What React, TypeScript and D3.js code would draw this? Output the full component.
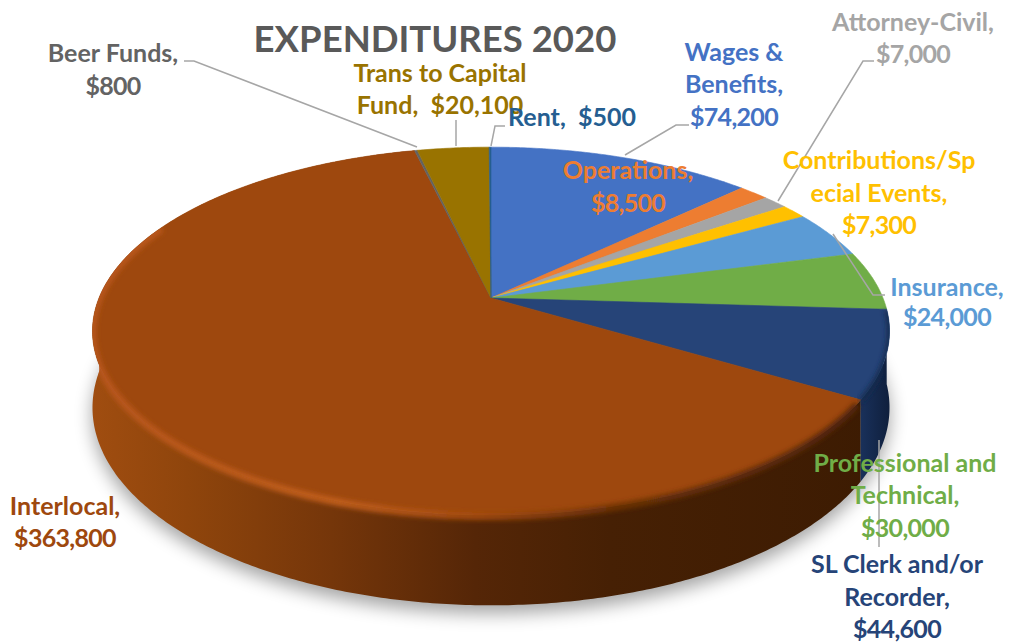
import React from "react";
import * as d3 from "d3";

const width = 1010;
const height = 644;

const categories = [
  "Wages & Benefits",
  "Operations",
  "Attorney-Civil",
  "Contributions/Special Events",
  "Insurance",
  "Professional and Technical",
  "SL Clerk and/or Recorder",
  "Interlocal",
  "Beer Funds",
  "Trans to Capital Fund",
  "Rent",
];
const values = [74200, 8500, 7000, 7300, 24000, 30000, 44600, 363800, 800, 20100, 500];
const colors = [
  "#4472c4", "#ed7d31", "#a5a5a5", "#ffc000", "#5b9bd5", "#70ad47",
  "#264478", "#9e480e", "#636363", "#997300", "#255e91",
];

// label layout: category index, centre x, baselines, text lines
const labels: { i: number; x: number; y: number[]; lines: string[] }[] = [
  { i: 8, x: 113, y: [62, 95], lines: ["Beer Funds,", "$800"] },
  { i: 9, x: 440, y: [82, 114], lines: ["Trans to Capital", "Fund,  $20,100"] },
  { i: 10, x: 572, y: [126], lines: ["Rent,  $500"] },
  { i: 0, x: 734, y: [61, 93, 126], lines: ["Wages &", "Benefits,", "$74,200"] },
  { i: 2, x: 913, y: [31, 63], lines: ["Attorney-Civil,", "$7,000"] },
  { i: 1, x: 628, y: [179, 212], lines: ["Operations,", "$8,500"] },
  { i: 3, x: 879, y: [169, 202, 234], lines: ["Contributions/Sp", "ecial Events,", "$7,300"] },
  { i: 4, x: 947, y: [296, 326], lines: ["Insurance,", "$24,000"] },
  { i: 5, x: 905, y: [472, 504, 537], lines: ["Professional and", "Technical,", "$30,000"] },
  { i: 6, x: 897, y: [573, 606, 638], lines: ["SL Clerk and/or", "Recorder,", "$44,600"] },
  { i: 7, x: 65, y: [515, 547], lines: ["Interlocal,", "$363,800"] },
];

const leaders: [number, number][][] = [
  [[184, 61], [194, 61], [417, 147]],
  [[456, 120], [456, 146]],
  [[505, 126], [495, 126], [491, 146]],
  [[689, 125], [676, 125], [625, 155]],
  [[874, 61], [863, 61], [778, 201]],
  [[833, 234], [873, 295], [885, 295]],
  [[879, 440], [879, 547]],
];

// pie geometry, a tilted disc seen in perspective
const cx = 491;
const cy = 298;
const radius = 392;
const tilt = 178;
const persp = 0.18;
const depth = 74;

const project = (a: number, z: number): [number, number] => {
  const X = Math.sin(a);
  const Y = -Math.cos(a);
  const s = 1 / (1 - persp * Y);
  return [cx + radius * X * s, cy + tilt * Y * s + z * s];
};

const arcPoints = (a0: number, a1: number, z: number) => {
  const n = Math.max(2, Math.ceil((a1 - a0) / 0.01));
  return d3.range(n + 1).map((k) => project(a0 + ((a1 - a0) * k) / n, z));
};

const line = d3.line();
const arcs = d3.pie<number>().sort(null)(values);
const TAU = Math.PI * 2;

const sidePath = (a0: number, a1: number) =>
  line([...arcPoints(a0, a1, 0), ...arcPoints(a0, a1, depth).reverse()]) + "Z";

const App = () => {
  const brown = arcs[7];
  const navy = arcs[6];
  return (
    <svg
      width={width}
      height={height}
      style={{ position: "absolute", left: 0, top: 0, fontFamily: "Lato, sans-serif", fontWeight: 700 }}
    >
      <defs>
        <filter id="shadow" x="-10%" y="-10%" width="120%" height="120%">
          <feGaussianBlur stdDeviation="9" />
        </filter>
        <filter id="bevel" x="-10%" y="-10%" width="120%" height="120%">
          <feGaussianBlur stdDeviation="2.8" />
        </filter>
        <clipPath id="disc">
          <path d={line(arcPoints(0, TAU, 0)) + "Z"} />
          <path d={sidePath(Math.PI / 2, (Math.PI * 3) / 2)} />
        </clipPath>
        <linearGradient id="sideBrown" gradientUnits="userSpaceOnUse" x1={92} x2={890} y1={0} y2={0}>
          <stop offset="0" stopColor="#a04d10" />
          <stop offset="0.12" stopColor="#8f450c" />
          <stop offset="0.3" stopColor="#75360a" />
          <stop offset="0.48" stopColor="#552607" />
          <stop offset="0.65" stopColor="#462004" />
          <stop offset="1" stopColor="#3c1b02" />
        </linearGradient>
        <linearGradient id="sideNavy" gradientUnits="userSpaceOnUse" x1={850} x2={890} y1={0} y2={0}>
          <stop offset="0" stopColor="#1d3766" />
          <stop offset="1" stopColor="#0f1f3c" />
        </linearGradient>
        <linearGradient id="rimBrown" gradientUnits="userSpaceOnUse" x1={92} x2={860} y1={0} y2={0}>
          <stop offset="0" stopColor="#b8561a" />
          <stop offset="0.32" stopColor="#c4601f" />
          <stop offset="0.5" stopColor="#a54c0e" />
          <stop offset="0.68" stopColor="#6e3206" />
          <stop offset="1" stopColor="#54260a" />
        </linearGradient>
      </defs>

      {/* shadow under the disc */}
      <path
        d={line(arcPoints(0, TAU, depth)) + "Z"}
        transform="translate(0,8)"
        fill="#000"
        opacity={0.36}
        filter="url(#shadow)"
      />

      {/* side wall */}
      <path d={sidePath(brown.startAngle, brown.endAngle)} fill="url(#sideBrown)" />
      <path d={sidePath(navy.startAngle, navy.endAngle)} fill="url(#sideNavy)" />

      {/* top face */}
      {arcs.map((d, i) => (
        <path
          key={categories[i]}
          d={line([[cx, cy], ...arcPoints(d.startAngle, d.endAngle, 0)]) + "Z"}
          fill={colors[i]}
          stroke={colors[i]}
          strokeWidth={0.6}
        />
      ))}

      {/* soft rim */}
      <g clipPath="url(#disc)">
        <path
          d={line(arcPoints(brown.startAngle + 0.02, brown.endAngle - 0.9, 1)) ?? ""}
          fill="none"
          stroke="url(#rimBrown)"
          strokeWidth={7}
          filter="url(#bevel)"
        />
        <path
          d={line(arcPoints(navy.startAngle, navy.endAngle, 1)) ?? ""}
          fill="none"
          stroke="#16294d"
          strokeWidth={5}
          filter="url(#bevel)"
        />
      </g>

      {/* title */}
      <text x={435} y={52} textAnchor="middle" fontSize={36.5} fill="#595959">
        EXPENDITURES 2020
      </text>

      {/* leader lines */}
      {leaders.map((pts, i) => (
        <path key={i} d={line(pts) ?? ""} fill="none" stroke="#a6a6a6" strokeWidth={1.5} />
      ))}

      {/* data labels, the digits run a bit wide in Lato so the value lines are tightened */}
      {labels.map((l) => (
        <text key={l.i} textAnchor="middle" fontSize={25} fill={colors[l.i]} style={{ whiteSpace: "pre" }}>
          {l.lines.map((t, k) => (
            <tspan key={k} x={l.x} y={l.y[k]} letterSpacing={t.startsWith("$") ? -0.7 : 0}>
              {t}
            </tspan>
          ))}
        </text>
      ))}
    </svg>
  );
};

export default App;
